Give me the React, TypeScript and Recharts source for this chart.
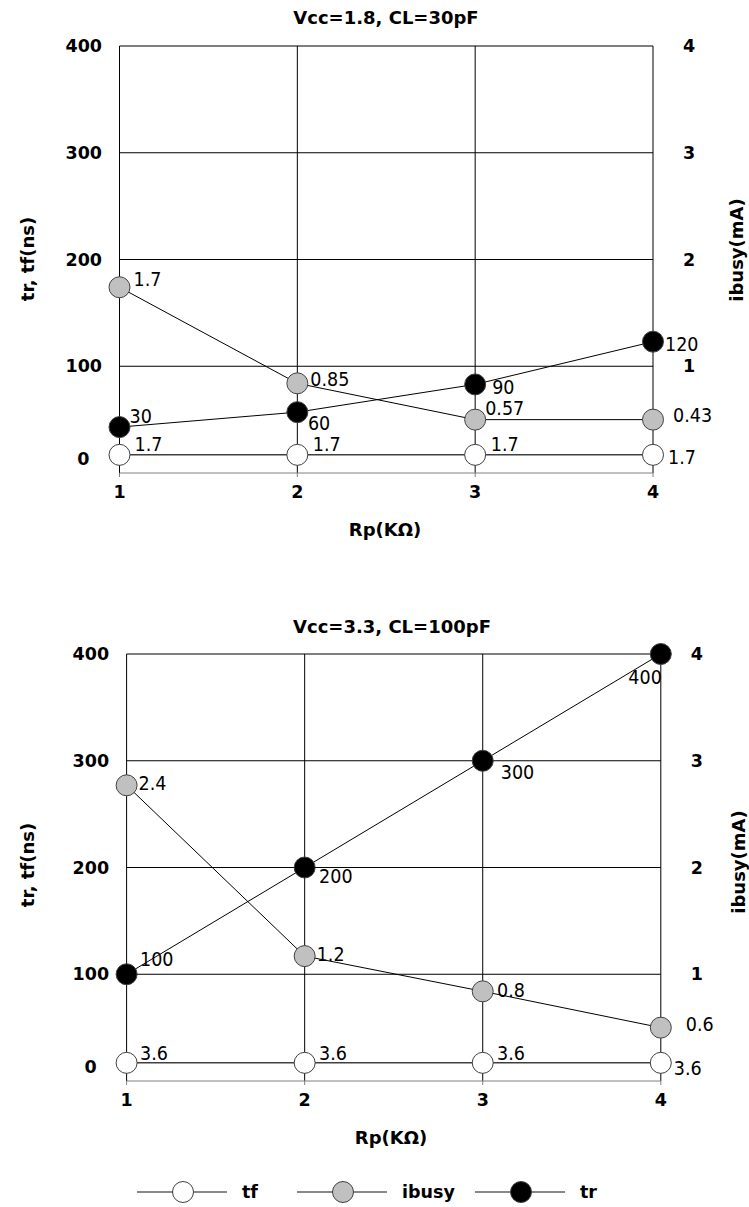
import { LineChart, Line, XAxis, YAxis, CartesianGrid, LabelList } from "recharts";

const rp = [1, 2, 3, 4];
const xTicks = [1, 2, 3, 4];
const leftTicks = [0, 100, 200, 300, 400];
const rightTicks = [1, 2, 3, 4];

// Vcc=1.8, CL=30pF : marker heights as drawn, labels as printed
const tr18 = [43, 57, 83, 123];
const tf18 = [17, 17, 17, 17];
const ibusy18 = [1.74, 0.84, 0.5, 0.5];
const tr18Labels = ["30", "60", "90", "120"];
const tf18Labels = ["1.7", "1.7", "1.7", "1.7"];
const ibusy18Labels = ["1.7", "0.85", "0.57", "0.43"];

// Vcc=3.3, CL=100pF
const tr33 = [100, 200, 300, 400];
const tf33 = [17, 17, 17, 17];
const ibusy33 = [2.77, 1.17, 0.84, 0.5];
const tr33Labels = ["100", "200", "300", "400"];
const tf33Labels = ["3.6", "3.6", "3.6", "3.6"];
const ibusy33Labels = ["2.4", "1.2", "0.8", "0.6"];

const seriesNames = ["tf", "ibusy", "tr"];

const BOLD = "'DejaVu Sans', Verdana, sans-serif";
const NARROW = "'DejaVu Sans Condensed', 'Liberation Sans Narrow', 'Arial Narrow', sans-serif";
const FILLS: Record<string, string> = { tf: "#ffffff", ibusy: "#c0c0c0", tr: "#000000" };

// label offsets from marker centre (dx, dy, anchor)
const OFF18: Record<string, any[]> = {
  tr: [[10, -11], [10.6, 11], [17, 3], [12, 2]],
  ibusy: [[14, -8.5], [13, -4.5], [10, -11], [20, -4]],
  tf: [[15, -10.5], [15.4, -10.5], [15.7, -10.5], [15, 2.5]],
};
const OFF33: Record<string, any[]> = {
  tr: [[13.4, -14.7], [14.4, 9], [18, 11], [1, 23, "end"]],
  ibusy: [[12, -1.7], [12, -2], [14.3, -1.3], [25, -3]],
  tf: [[13.4, -9.4], [14.4, -9.4], [14.3, -9.4], [13, 5]],
};

const W = 749;
const H = 560;

const mkLabel = (offs: any[]) => (p: any) => {
  const o = offs[p.index] || [12, 0];
  const x = p.x ?? p.viewBox?.x;
  const y = p.y ?? p.viewBox?.y;
  return (
    <text x={x + o[0]} y={y + o[1]} dy="0.35em" textAnchor={o[2] || "start"} fontSize={19.5} fontFamily={NARROW} fill="#000">
      {p.value}
    </text>
  );
};

function Panel({ top, plotTop, plotBottom, plotLeft, plotRight, data, offs }: any) {
  const xAxisH = 30;
  const margin = { top: plotTop - top, right: 0, left: 0, bottom: H - (plotBottom - top) - xAxisH };
  const dot = (fill: string) => ({ r: 10.5, fill, stroke: "#404040", strokeWidth: 1 });
  return (
    <div style={{ position: "absolute", left: 0, top }}>
      <LineChart width={W} height={H} data={data} margin={margin}>
        <CartesianGrid
          yAxisId="l"
          stroke="#000"
          strokeWidth={1}
          horizontalValues={[100, 200, 300, 400]}
          verticalValues={xTicks}
        />
        <XAxis
          type="number"
          dataKey="rp"
          domain={[1, 4]}
          ticks={xTicks}
          height={xAxisH}
          stroke="#808080"
          tickSize={4}
          tickMargin={0}
          tick={(p: any) => (
            <text x={p.x} y={p.y + 15} dy="0.35em" textAnchor="middle" fontSize={17.5} fontWeight="bold" fontFamily={BOLD} fill="#000">
              {p.payload.value}
            </text>
          )}
        />
        <YAxis
          yAxisId="l"
          domain={[0, 400]}
          ticks={leftTicks}
          width={plotLeft}
          axisLine={false}
          tickLine={false}
          tickSize={0}
          tickMargin={0}
          tick={(p: any) => {
            const zero = p.payload.value === 0;
            return (
              <text x={p.x - (zero ? 30 : 17.5)} y={p.y - (zero ? 14 : 0)} dy="0.35em" textAnchor="end" fontSize={17.5} fontWeight="bold" fontFamily={BOLD} fill="#000">
                {p.payload.value}
              </text>
            );
          }}
        />
        <YAxis
          yAxisId="r"
          orientation="right"
          domain={[0, 4]}
          ticks={rightTicks}
          width={W - plotRight}
          axisLine={false}
          tickLine={false}
          tickSize={0}
          tickMargin={0}
          tick={(p: any) => (
            <text x={p.x + 30} y={p.y} dy="0.35em" textAnchor="start" fontSize={17.5} fontWeight="bold" fontFamily={BOLD} fill="#000">
              {p.payload.value}
            </text>
          )}
        />
        <Line yAxisId="l" dataKey="tf" stroke="#404040" strokeWidth={1.5} dot={dot(FILLS.tf)} activeDot={false} isAnimationActive={false}>
          <LabelList dataKey="tfLabel" content={mkLabel(offs.tf)} />
        </Line>
        <Line yAxisId="r" dataKey="ibusy" stroke="#000" strokeWidth={1} dot={dot(FILLS.ibusy)} activeDot={false} isAnimationActive={false}>
          <LabelList dataKey="ibusyLabel" content={mkLabel(offs.ibusy)} />
        </Line>
        <Line yAxisId="l" dataKey="tr" stroke="#000" strokeWidth={1} dot={dot(FILLS.tr)} activeDot={false} isAnimationActive={false}>
          <LabelList dataKey="trLabel" content={mkLabel(offs.tr)} />
        </Line>
      </LineChart>
    </div>
  );
}

const txt = (x: number, y: number, s: string, rot = false, size = 18) => (
  <div
    style={{
      position: "absolute",
      left: x,
      top: y,
      transform: `translate(-50%, -50%)${rot ? " rotate(-90deg)" : ""}`,
      whiteSpace: "nowrap",
      fontFamily: BOLD,
      fontWeight: "bold",
      fontSize: size,
      lineHeight: 1,
    }}
  >
    {s}
  </div>
);

export default function App() {
  const data18 = rp.map((r, i) => ({
    rp: r,
    tr: tr18[i],
    tf: tf18[i],
    ibusy: ibusy18[i],
    trLabel: tr18Labels[i],
    tfLabel: tf18Labels[i],
    ibusyLabel: ibusy18Labels[i],
  }));
  const data33 = rp.map((r, i) => ({
    rp: r,
    tr: tr33[i],
    tf: tf33[i],
    ibusy: ibusy33[i],
    trLabel: tr33Labels[i],
    tfLabel: tf33Labels[i],
    ibusyLabel: ibusy33Labels[i],
  }));

  const legendStarts = [137, 297, 475];

  return (
    <div style={{ position: "absolute", left: 0, top: 0, width: W, height: 1207, background: "#fff" }}>
      <Panel top={0} plotTop={46} plotBottom={473} plotLeft={119.5} plotRight={653} data={data18} offs={OFF18} />
      <Panel top={600} plotTop={654} plotBottom={1081} plotLeft={126.6} plotRight={660.8} data={data33} offs={OFF33} />

      {txt(386, 18, "Vcc=1.8, CL=30pF")}
      {txt(28, 259, "tr, tf(ns)", true)}
      {txt(737, 250, "ibusy(mA)", true)}
      {txt(385, 530, "Rp(KΩ)")}

      {txt(392, 627, "Vcc=3.3, CL=100pF")}
      {txt(28, 865, "tr, tf(ns)", true)}
      {txt(739, 862, "ibusy(mA)", true)}
      {txt(391, 1138, "Rp(KΩ)")}

      <svg width={W} height={40} style={{ position: "absolute", left: 0, top: 1172 }}>
        {seriesNames.map((name, i) => {
          const s = legendStarts[i];
          return (
            <g key={name}>
              <line x1={s} x2={s + 90} y1={20} y2={20} stroke="#606060" strokeWidth={1.5} />
              <circle cx={s + 46} cy={20} r={10.5} fill={FILLS[name]} stroke="#404040" strokeWidth={1} />
              <text x={s + 105} y={20} dy="0.35em" fontSize={17.5} fontWeight="bold" fontFamily={BOLD}>
                {name}
              </text>
            </g>
          );
        })}
      </svg>
    </div>
  );
}
